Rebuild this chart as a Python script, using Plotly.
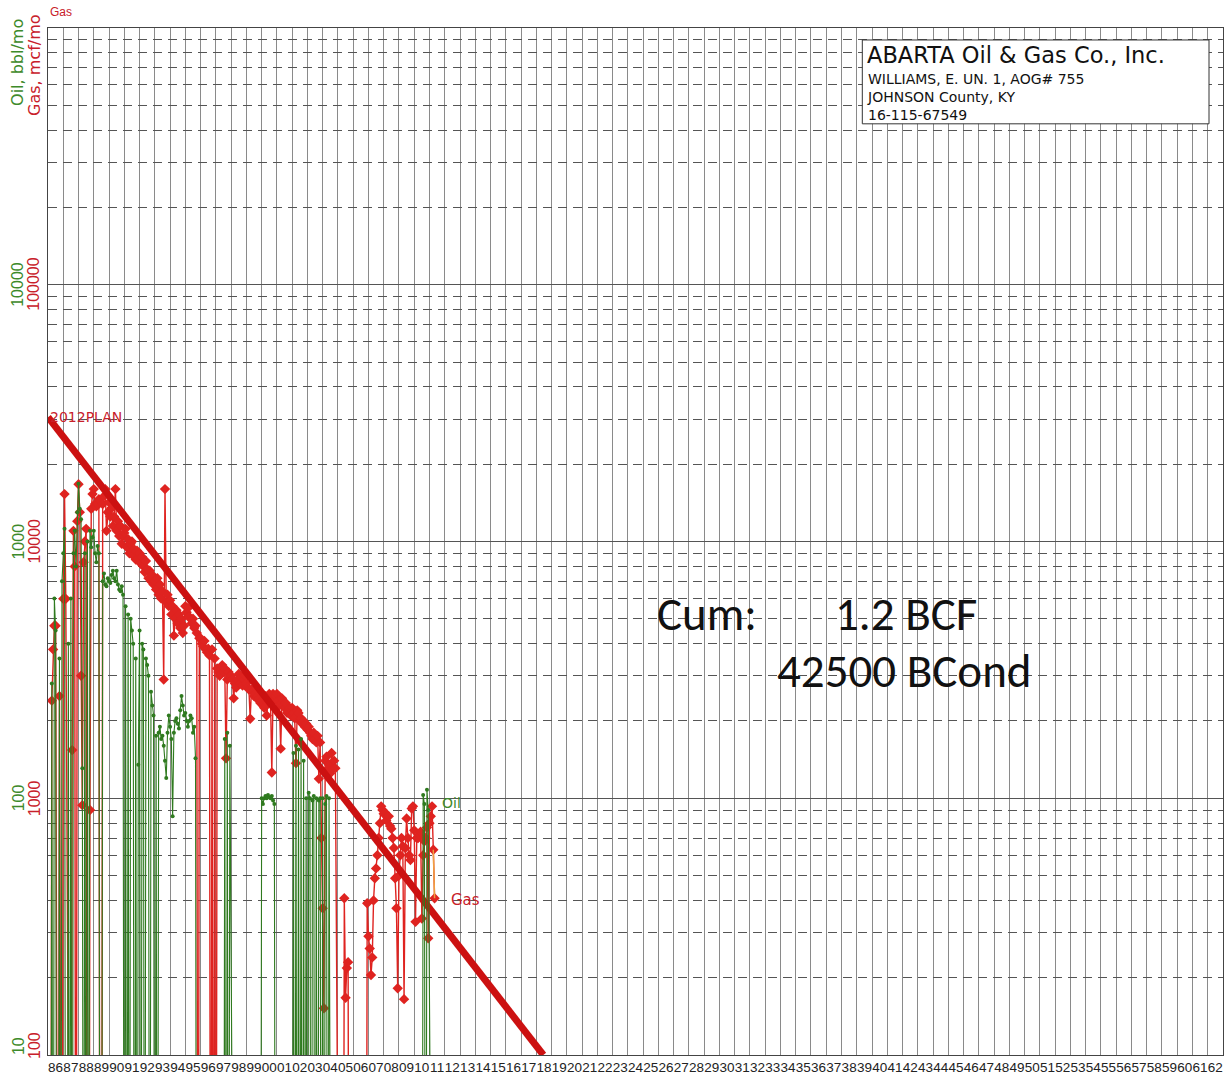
import plotly.graph_objects as go

# ---------------- data (monthly, starting Jan 1986) ----------------
start_year = 1986

# gas, mcf per month (0 = no production)
gas_1986 = [0, 0, 0, 2400, 3800, 4700, 4700, 0, 0, 2500, 0, 0]
gas_1987 = [5980, 15300, 5980, 0, 0, 0, 0, 1540, 11000, 8000, 0, 12000]
gas_1988 = [16700, 13000, 3000, 940, 8300, 10000, 11200, 0, 0, 900, 13400, 15300]
gas_1989 = [16000, 14000, 13700, 14000, 14600, 0, 0, 14000, 15000, 16000, 11000, 13000]
gas_1990 = [14200, 12500, 13500, 11500, 12500, 16000, 11000, 12000, 10500, 11500, 9800, 10500]
gas_1991 = [10800, 11200, 9500, 10200, 9000, 9800, 10000, 8800, 9300, 8500, 9200, 8600]
gas_1992 = [9000, 8200, 8700, 8000, 7600, 8400, 7800, 7200, 7700, 7000, 7400, 6800]
gas_1993 = [7000, 6500, 7200, 6200, 6800, 6000, 6400, 2900, 16000, 5800, 6200, 5600]
gas_1994 = [5900, 5200, 5600, 4300, 5000, 5400, 4800, 5200, 4600, 5000, 4400, 4700]
gas_1995 = [5600, 5300, 5500, 5100, 5000, 4800, 5000, 4600, 4700, 4400, 0, 4200]
gas_1996 = [4200, 4000, 3900, 4100, 3800, 3700, 3820, 3600, 0, 3800, 0, 3500]
gas_1997 = [0, 3200, 3100, 3000, 3050, 3300, 3100, 3200, 1430, 2900, 3100, 3000]
gas_1998 = [3000, 2900, 2450, 2800, 2700, 2900, 3050, 2800, 2950, 2750, 2900, 3000]
gas_1999 = [2800, 2700, 2650, 2040, 2650, 2600, 2500, 2550, 2450, 2500, 2450, 2350]
gas_2000 = [2400, 2300, 2250, 2500, 2100, 2350, 2550, 2400, 1260, 2550, 2400, 2500]
gas_2001 = [2550, 2400, 2300, 1560, 2450, 2300, 2250, 2350, 2150, 2200, 2250, 2100]
gas_2002 = [2250, 2150, 2050, 1370, 2200, 2150, 2000, 2050, 1950, 2000, 1900, 1950]
gas_2003 = [1850, 1900, 1800, 1750, 1700, 1800, 1700, 1650, 1750, 1190, 1650, 700]
gas_2004 = [373, 152, 1400, 1450, 1300, 1350, 1250, 1500, 1300, 1400, 1310, 0]
gas_2005 = [0, 0, 0, 0, 0, 408, 167, 218, 230, 0, 0, 0]
gas_2006 = [0, 0, 0, 0, 0, 0, 0, 0, 0, 0, 0, 390]
gas_2007 = [290, 260, 205, 240, 400, 488, 533, 600, 700, 800, 930, 900]
gas_2008 = [870, 880, 820, 850, 850, 780, 760, 700, 640, 488, 373, 182]
gas_2009 = [500, 600, 700, 650, 165, 640, 834, 700, 600, 575, 912, 930]
gas_2010 = [750, 330, 700, 700, 720, 740, 340, 600, 680, 700, 770, 285]
gas_2011 = [800, 850, 930, 630, 408]

# oil / condensate, bbl per month (0 = no production)
oil_1986 = [0, 0, 0, 280, 0, 600, 450, 0, 0, 350, 0, 700]
oil_1987 = [900, 1120, 0, 0, 400, 0, 600, 0, 900, 1100, 800, 1300]
oil_1988 = [1680, 1340, 1220, 131, 0, 900, 0, 1000, 0, 1100, 950, 1040]
oil_1989 = [1100, 900, 830, 960, 900, 0, 0, 700, 750, 680, 670, 720]
oil_1990 = [700, 690, 740, 770, 720, 700, 770, 680, 650, 640, 670, 620]
oil_1991 = [0, 560, 0, 520, 0, 500, 450, 400, 0, 350, 0, 135]
oil_1992 = [450, 0, 400, 380, 0, 350, 330, 300, 0, 260, 230, 210]
oil_1993 = [0, 175, 0, 180, 190, 170, 175, 160, 140, 120, 180, 210]
oil_1994 = [190, 170, 85, 180, 200, 205, 195, 187, 220, 250, 230, 210]
oil_1995 = [215, 200, 190, 200, 210, 205, 180, 190, 143, 0, 0, 0]
oil_1996 = [0, 0, 0, 0, 0, 0, 0, 0, 0, 0, 0, 0]
oil_1997 = [0, 0, 0, 0, 0, 0, 0, 170, 0, 180, 0, 160]
oil_1998 = [0, 0, 0, 0, 0, 0, 0, 0, 0, 0, 0, 0]
oil_1999 = [0, 0, 0, 0, 0, 0, 0, 0, 0, 0, 0, 0]
oil_2000 = [100, 95, 100, 102, 100, 103, 101, 100, 102, 98, 95, 0]
oil_2001 = [0, 0, 0, 0, 0, 0, 0, 0, 0, 0, 0, 0]
oil_2002 = [0, 150, 0, 160, 0, 155, 0, 170, 0, 140, 0, 100]
oil_2003 = [0, 105, 100, 0, 98, 102, 0, 100, 0, 98, 100, 0]
oil_2004 = [100, 0, 95, 102, 0, 100, 0, 0, 0, 0, 0, 0]
oil_2005 = [0, 0, 0, 0, 0, 0, 0, 0, 0, 0, 0, 0]
oil_2006 = [0, 0, 0, 0, 0, 0, 0, 0, 0, 0, 0, 0]
oil_2007 = [0, 0, 0, 0, 0, 0, 0, 0, 0, 0, 0, 0]
oil_2008 = [0, 0, 0, 0, 0, 0, 0, 0, 0, 0, 0, 0]
oil_2009 = [0, 0, 0, 0, 0, 0, 0, 0, 0, 0, 0, 0]
oil_2010 = [0, 0, 0, 0, 0, 0, 0, 103, 95, 0, 108, 90]
oil_2011 = [0, 0, 0, 0, 0]

# 2012 plan decline line (mcf/mo)
plan_years = [1986.0, 2018.46]
plan_gas = [30500, 100]

# current-date marker at top of chart
marker_year = [2011.35]

# axis ticks
year_ticks = list(range(1986, 2063))
year_labels = [f"{y % 100:02d}" for y in year_ticks]
gas_tick_vals = [100, 1000, 10000, 100000]
oil_tick_vals = [10, 100, 1000, 10000]

# text
company = "ABARTA Oil & Gas Co., Inc."
well_lines = ["WILLIAMS, E. UN. 1, AOG# 755", "JOHNSON County, KY", "16-115-67549"]
cum_label = "Cum:"
cum_gas = "1.2 BCF"
cum_cond = "42500 BCond"

# ---------------- build series ----------------
gas_mcf_mo = (gas_1986 + gas_1987 + gas_1988 + gas_1989 + gas_1990 + gas_1991 + gas_1992
              + gas_1993 + gas_1994 + gas_1995 + gas_1996 + gas_1997 + gas_1998 + gas_1999
              + gas_2000 + gas_2001 + gas_2002 + gas_2003 + gas_2004 + gas_2005 + gas_2006
              + gas_2007 + gas_2008 + gas_2009 + gas_2010 + gas_2011)
oil_bbl_mo = (oil_1986 + oil_1987 + oil_1988 + oil_1989 + oil_1990 + oil_1991 + oil_1992
              + oil_1993 + oil_1994 + oil_1995 + oil_1996 + oil_1997 + oil_1998 + oil_1999
              + oil_2000 + oil_2001 + oil_2002 + oil_2003 + oil_2004 + oil_2005 + oil_2006
              + oil_2007 + oil_2008 + oil_2009 + oil_2010 + oil_2011)

t_gas = [start_year + m / 12 for m in range(len(gas_mcf_mo))]
t_oil = [start_year + m / 12 for m in range(len(oil_bbl_mo))]
# zero months are drawn below the bottom of the log scale
gas_plot = [v if v > 0 else 1 for v in gas_mcf_mo]
oil_plot = [v if v > 0 else 0.1 for v in oil_bbl_mo]

RED = "#df2320"
GREEN = "#2f7a1f"
PLAN = "#cc1111"
RED_TXT = "#c8202a"
GREEN_TXT = "#3d8a2a"
FONT = "Liberation Sans, Arial, sans-serif"
WIDE = "DejaVu Sans, Liberation Sans, sans-serif"

fig = go.Figure()

fig.add_trace(go.Scatter(
    x=t_oil, y=oil_plot, yaxis="y2", mode="lines+markers",
    line=dict(color=GREEN, width=1.1),
    marker=dict(symbol="circle", size=4, color=GREEN),
    name="Oil", showlegend=False))

fig.add_trace(go.Scatter(
    x=t_gas, y=gas_plot, mode="lines+markers",
    line=dict(color=RED, width=1.4),
    marker=dict(symbol="diamond", size=8, color=RED),
    name="Gas", showlegend=False))

fig.add_trace(go.Scatter(
    x=t_gas[-2:], y=gas_plot[-2:], mode="lines",
    line=dict(color="#f0a040", width=1.5), showlegend=False))

fig.add_trace(go.Scatter(
    x=plan_years, y=plan_gas, mode="lines",
    line=dict(color=PLAN, width=7), showlegend=False, name="2012PLAN"))

fig.add_trace(go.Scatter(
    x=marker_year, y=[1.08e6], mode="markers",
    marker=dict(symbol="triangle-down", size=21, color="#d8170f"),
    cliponaxis=False, showlegend=False))

minor_gas = [k * 10 ** d for d in range(2, 6) for k in range(2, 10)]

fig.update_layout(
    width=1230, height=1081,
    margin=dict(l=48, r=6, t=28, b=24),
    paper_bgcolor="white", plot_bgcolor="white",
    font=dict(family=FONT, color="#222"),
    xaxis=dict(
        range=[1986, 2063], tickmode="array",
        tickvals=[y + 0.5 for y in year_ticks], ticktext=year_labels,
        tickfont=dict(size=13.5, color="#222", family=FONT), tickangle=0,
        ticks="", showgrid=False, zeroline=False,
        showline=True, mirror=True, linecolor="#444", linewidth=1,
        minor=dict(tickvals=year_ticks + [2063], showgrid=True,
                   gridcolor="#8a8a8a", gridwidth=1, ticks=""),
    ),
    yaxis=dict(
        type="log", range=[2, 6], tickmode="array",
        tickvals=gas_tick_vals, showticklabels=False,
        ticks="", showgrid=True, gridcolor="#555", gridwidth=1,
        zeroline=False, showline=True, mirror=True, linecolor="#444", linewidth=1,
        minor=dict(tickvals=minor_gas, showgrid=True, gridcolor="#555",
                   gridwidth=1, griddash="9px,6px", ticks=""),
    ),
    yaxis2=dict(
        type="log", range=[1, 5], overlaying="y", side="left", anchor="x",
        tickmode="array", tickvals=oil_tick_vals, showticklabels=False,
        ticks="", showgrid=False, zeroline=False, showline=False,
    ),
)

def px_x(px):
    return (px - 48) / 1176

def px_y(py):
    return (1057 - py) / 1029

ann = []
# y-axis tick labels (gas in red, oil in green), rotated
for i, (gv, ov) in enumerate(zip(gas_tick_vals, oil_tick_vals)):
    shift = 9 if i == 0 else 0
    ann.append(dict(text=str(gv), x=px_x(34), y=len(str(gv)) - 1, xref="paper", yref="y",
                    textangle=-90, showarrow=False, xanchor="center", yanchor="middle",
                    yshift=shift, font=dict(size=16, color=RED_TXT, family=FONT)))
    ann.append(dict(text=str(ov), x=px_x(18), y=len(str(gv)) - 1, xref="paper", yref="y",
                    textangle=-90, showarrow=False, xanchor="center", yanchor="middle",
                    yshift=shift, font=dict(size=16, color=GREEN_TXT, family=FONT)))
ann.append(dict(text="Gas", x=px_x(48), y=px_y(12), xref="paper", yref="paper",
                xanchor="left", yanchor="middle", showarrow=False,
                font=dict(size=12, color=RED_TXT, family=FONT)))
ann.append(dict(text="Oil, bbl/mo", x=px_x(18), y=px_y(63), xref="paper", yref="paper",
                textangle=-90, showarrow=False, xanchor="center", yanchor="middle",
                font=dict(size=16, color=GREEN_TXT, family=WIDE)))
ann.append(dict(text="Gas, mcf/mo", x=px_x(35), y=px_y(65), xref="paper", yref="paper",
                textangle=-90, showarrow=False, xanchor="center", yanchor="middle",
                font=dict(size=16, color=RED_TXT, family=WIDE)))
ann.append(dict(text="2012PLAN", x=plan_years[0], y=4.484, xref="x", yref="y",
                xanchor="left", yanchor="middle", showarrow=False, xshift=0,
                font=dict(size=14, color=RED_TXT, family=WIDE)))
ann.append(dict(text="Oil", x=2012.44, y=2.98, xref="x", yref="y", showarrow=False,
                font=dict(size=14, color=GREEN_TXT, family=WIDE)))
ann.append(dict(text="Gas", x=2013.36, y=2.603, xref="x", yref="y", showarrow=False,
                font=dict(size=15, color=RED_TXT, family=WIDE)))
CUMFONT = dict(size=47, color="#111", family="Carlito, Lato, sans-serif")
ann.append(dict(text=cum_label, x=px_x(656), y=px_y(615), xref="paper", yref="paper",
                xanchor="left", yanchor="middle", showarrow=False, font=CUMFONT))
ann.append(dict(text=cum_gas, x=px_x(834), y=px_y(615), xref="paper", yref="paper",
                xanchor="left", yanchor="middle", showarrow=False, font=CUMFONT))
ann.append(dict(text=cum_cond, x=px_x(776), y=px_y(672), xref="paper", yref="paper",
                xanchor="left", yanchor="middle", showarrow=False, font=CUMFONT))
ann.append(dict(text=company, x=px_x(866), y=px_y(55), xref="paper", yref="paper",
                xanchor="left", yanchor="middle", showarrow=False,
                font=dict(size=22.5, color="#111", family=WIDE)))
ann.append(dict(text="<br>".join(well_lines), x=px_x(866), y=px_y(69), xref="paper",
                yref="paper", xanchor="left", yanchor="top", align="left", showarrow=False,
                font=dict(size=14, color="#111", family=WIDE)))
fig.update_layout(annotations=ann)

fig.add_shape(type="rect", xref="paper", yref="paper",
              x0=px_x(863), x1=px_x(1210), y0=px_y(124), y1=px_y(40),
              fillcolor="white", line=dict(color="#333", width=1), layer="above")

fig.write_html("out.html", config={"displayModeBar": False},
               post_script="document.body.style.margin='0px';")
